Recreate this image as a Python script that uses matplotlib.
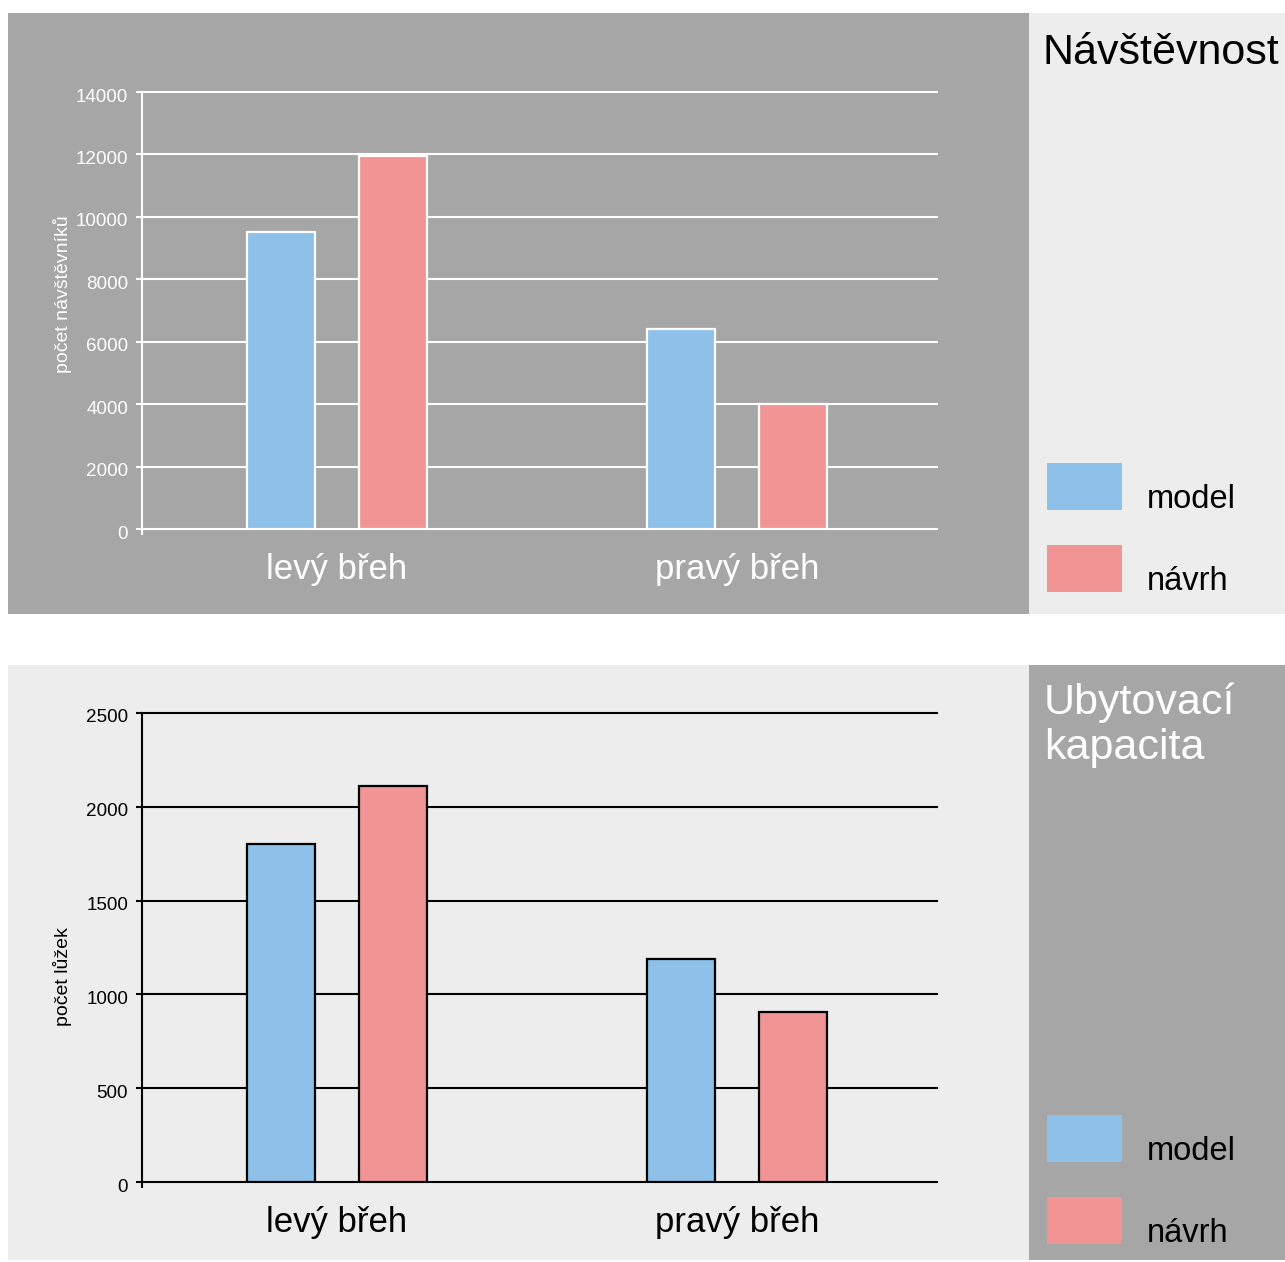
import numpy as np
import matplotlib
matplotlib.use("Agg")
import matplotlib.pyplot as plt
from matplotlib.patches import Rectangle
from matplotlib.transforms import ScaledTranslation

plt.rcParams['font.family'] = ['Liberation Sans', 'DejaVu Sans']

# --- data ---
categories = ["levý břeh", "pravý břeh"]
series_names = ["model", "návrh"]
visitors_model = [9500, 6400]
visitors_design = [11950, 4000]
beds_model = [1800, 1190]
beds_design = [2110, 905]
visitor_ticks = [0, 2000, 4000, 6000, 8000, 10000, 12000, 14000]
bed_ticks = [0, 500, 1000, 1500, 2000, 2500]

BLUE = "#8dc1ea"
RED = "#f19494"
DARK = "#a6a6a6"
LIGHT = "#ededed"

W, H = 1285, 1262
fig = plt.figure(figsize=(W / 100, H / 100), dpi=100)
fig.patch.set_facecolor("white")


def fx(px):
    return px / W


def fy(py):
    return 1 - py / H


def panel(x0, y0, x1, y1, color):
    fig.patches.append(Rectangle((fx(x0), fy(y1)), fx(x1) - fx(x0), fy(y0) - fy(y1),
                                 transform=fig.transFigure, facecolor=color,
                                 edgecolor="none", zorder=-5))


# background panels
panel(8, 13, 1029, 614, DARK)
panel(1029, 13, 1285, 614, LIGHT)
panel(8, 665, 1029, 1260, LIGHT)
panel(1029, 665, 1285, 1260, DARK)

group_x = np.array([0.49, 1.497])
offset = 0.141
bar_w = 0.17


def draw_chart(rect_px, model_vals, design_vals, ticks, ymax, fg, edge, ylabel, ylabel_y):
    x0, y0, x1, y1 = rect_px
    ax = fig.add_axes([fx(x0), fy(y1), fx(x1) - fx(x0), fy(y0) - fy(y1)])
    ax.patch.set_alpha(0)
    ax.set_zorder(2)
    ax.set_xlim(0, 2)
    ax.set_ylim(0, ymax)
    ax.bar(group_x - offset, model_vals, width=bar_w, color=BLUE,
           edgecolor=edge, linewidth=1.6, zorder=3)
    ax.bar(group_x + offset, design_vals, width=bar_w, color=RED,
           edgecolor=edge, linewidth=1.6, zorder=3)

    for s in ["top", "right", "bottom"]:
        ax.spines[s].set_visible(False)
    ax.spines["left"].set_color(fg)
    ax.spines["left"].set_linewidth(1.5)

    ax.set_yticks(ticks)
    ax.set_yticklabels([str(t) for t in ticks])
    ax.tick_params(axis="y", colors=fg, labelcolor=fg, length=4.5, width=1.5,
                   pad=5.5, labelsize=13.6)
    # numbers sit a little below their grid lines
    shift = ScaledTranslation(0, -3 / 100, fig.dpi_scale_trans)
    for lab in ax.get_yticklabels():
        lab.set_transform(lab.get_transform() + shift)
    ax.yaxis.grid(True, color=fg, linewidth=1.5)
    ax.set_axisbelow(True)
    for gl in ax.get_ygridlines():
        gl.set_clip_on(False)

    ax.set_xticks(group_x)
    ax.set_xticklabels(categories)
    ax.tick_params(axis="x", which="major", length=0, pad=17.5, labelsize=25,
                   labelcolor=fg)
    ax.set_xticks([0], minor=True)
    ax.tick_params(axis="x", which="minor", length=4.5, width=1.5, colors=fg)

    ax.set_ylabel(ylabel, color=fg, fontsize=14)
    ax.yaxis.set_label_coords((72 - x0) / (x1 - x0), ylabel_y)
    return ax


draw_chart((142, 92, 937, 529), visitors_model, visitors_design, visitor_ticks,
           14000, "white", "white", "počet návštěvníků", 0.538)
draw_chart((142, 713, 937, 1182), beds_model, beds_design, bed_ticks,
           2500, "black", "black", "počet lůžek", 0.439)

# titles of side panels
fig.text(fx(1043), fy(64), "Návštěvnost", fontsize=31, color="black",
         ha="left", va="baseline")
fig.text(fx(1044), fy(714), "Ubytovací", fontsize=31, color="white",
         ha="left", va="baseline")
fig.text(fx(1044), fy(759), "kapacita", fontsize=31, color="white",
         ha="left", va="baseline")


# legends
def legend(top_px, gap_px):
    for i, (name, col) in enumerate(zip(series_names, [BLUE, RED])):
        ty = top_px + i * gap_px
        fig.patches.append(Rectangle((fx(1047), fy(ty + 47)), fx(75), 47 / H,
                                     transform=fig.transFigure, facecolor=col,
                                     edgecolor="none", zorder=1))
        fig.text(fx(1147), fy(ty + 45), name, fontsize=23.5, color="black",
                 ha="left", va="baseline")


legend(463, 82)
legend(1115, 82)

fig.savefig("out.png", dpi=100, facecolor=fig.get_facecolor())
